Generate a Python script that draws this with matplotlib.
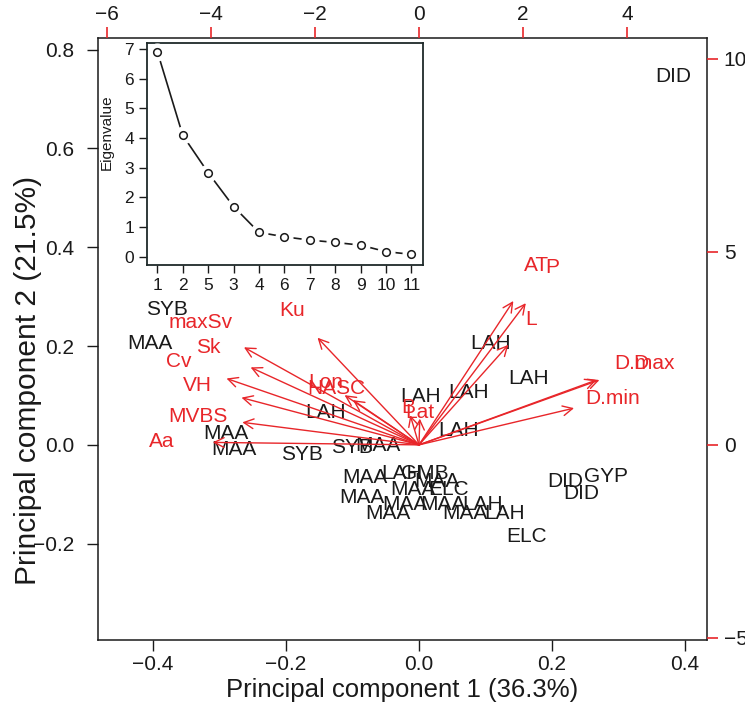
import matplotlib
matplotlib.use("Agg")
import matplotlib.pyplot as plt

plt.rcParams['font.family'] = ['Liberation Sans', 'DejaVu Sans']

# ---------------- data ----------------
score_labels = ["DID", "SYB", "MAA", "LAH", "LAH", "LAH", "LAH", "LAH", "LAH",
                "MAA", "MAA", "SYB", "SYB", "MAA", "MAA", "LAH", "GMB", "MAA",
                "MAA", "ELC", "MAA", "MAA", "MAA", "MAA", "LAH", "MAA", "LAH",
                "DID", "GYP", "DID", "ELC"]
score_pc1 = [0.382, -0.379, -0.405, 0.107, 0.165, 0.075, 0.002, -0.140, 0.060,
             -0.290, -0.278, -0.176, -0.101, -0.062, -0.081, -0.026, 0.009, 0.027,
             -0.009, 0.044, -0.086, -0.047, -0.021, 0.036, 0.095, 0.069, 0.129,
             0.220, 0.281, 0.244, 0.161]
score_pc2 = [0.745, 0.275, 0.206, 0.206, 0.134, 0.107, 0.097, 0.065, 0.030,
             0.022, -0.010, -0.020, -0.006, -0.002, -0.067, -0.057, -0.057, -0.075,
             -0.091, -0.091, -0.107, -0.138, -0.121, -0.121, -0.121, -0.138, -0.138,
             -0.075, -0.065, -0.099, -0.186]

var_labels = ["Aa", "MVBS", "VH", "Cv", "Sk", "maxSv", "Ku", "Lon", "NASC",
              "B", "Lat", "AT", "P", "L", "D", "D.max", "D.min"]
load_pc1 = [-4.96, -4.25, -4.27, -4.63, -4.05, -4.21, -2.44, -1.79, -1.59,
            -0.21, 0.02, 2.27, 2.57, 2.15, 4.27, 4.34, 3.73]
load_pc2 = [0.08, 0.73, 1.53, 2.15, 2.51, 3.16, 3.47, 1.61, 1.45,
            0.96, 0.85, 4.66, 4.59, 3.24, 2.10, 2.10, 1.19]

eig_tick_labels = ["1", "2", "5", "3", "4", "6", "7", "8", "9", "10", "11"]
eigenvalues = [6.91, 4.09, 2.83, 1.69, 0.82, 0.67, 0.56, 0.48, 0.39, 0.17, 0.08]

pc1_label = "Principal component 1 (36.3%)"
pc2_label = "Principal component 2 (21.5%)"

# ---------------- layout ----------------
W, H = 745, 708
RED = '#E8262A'
BLK = '#1a1a1a'
ratio = 12.8  # loadings-axis units per score-axis unit

fig = plt.figure(figsize=(W / 100, H / 100), dpi=100)

L, R, T, B = 97.7, 707, 38.3, 640
rect = [L / W, (H - B) / H, (R - L) / W, (B - T) / H]
ax = fig.add_axes(rect)
xlim = (-0.483, 0.433)
ylim = (-0.395, 0.823)
ax.set_xlim(*xlim)
ax.set_ylim(*ylim)
ax.set_xticks([-0.4, -0.2, 0.0, 0.2, 0.4])
ax.set_xticklabels(["\u22120.4", "\u22120.2", "0.0", "0.2", "0.4"])
ax.set_yticks([-0.2, 0.0, 0.2, 0.4, 0.6, 0.8])
ax.set_yticklabels(["\u22120.2", "0.0", "0.2", "0.4", "0.6", "0.8"])
ax.tick_params(direction='out', length=8, width=1, labelsize=15, colors=BLK)
ax.tick_params(axis='x', pad=3)
ax.tick_params(axis='y', pad=9)
for s in ax.spines.values():
    s.set_linewidth(1.1)
    s.set_color(BLK)
ax.set_xlabel(pc1_label, fontsize=18.5, color=BLK)
ax.xaxis.label.set_va('center')
ax.xaxis.set_label_coords(0.5, -0.083)
ax.set_ylabel(pc2_label, fontsize=21.5, color=BLK)
ax.yaxis.label.set_va('center')
ax.yaxis.set_label_coords(-0.114, 0.432)

for lab, x, y in zip(score_labels, score_pc1, score_pc2):
    ax.text(x, y, lab, ha='center', va='center', fontsize=15, color=BLK)

# secondary axes for loadings
ax2 = fig.add_axes(rect, frameon=False)
ax2.set_xlim(xlim[0] * ratio, xlim[1] * ratio)
ax2.set_ylim(ylim[0] * ratio, ylim[1] * ratio)
ax2.xaxis.tick_top()
ax2.yaxis.tick_right()
ax2.set_xticks([-6, -4, -2, 0, 2, 4])
ax2.set_xticklabels(["\u22126", "\u22124", "\u22122", "0", "2", "4"])
ax2.set_yticks([-5, 0, 5, 10])
ax2.set_yticklabels(["\u22125", "0", "5", "10"])
ax2.tick_params(direction='out', length=8, width=1.2, labelsize=15,
                color=RED, labelcolor=BLK)
ax2.tick_params(axis='x', pad=2)
ax2.tick_params(axis='y', pad=4)

for lab, x, y in zip(var_labels, load_pc1, load_pc2):
    ax2.annotate('', xy=(0.8 * x, 0.8 * y), xytext=(0, 0),
                 arrowprops=dict(arrowstyle='->,head_length=0.7,head_width=0.35',
                                 color=RED, lw=1.0, shrinkA=0, shrinkB=0,
                                 mutation_scale=10))
    ax2.text(x, y, lab, ha='center', va='center', fontsize=15, color=RED)

# ---------------- inset scree plot ----------------
iL, iR, iT, iB = 146.7, 423, 43.3, 265
axin = fig.add_axes([iL / W, (H - iB) / H, (iR - iL) / W, (iB - iT) / H])
axin.set_zorder(5)
axin.set_facecolor('white')
idx = list(range(1, len(eigenvalues) + 1))
axin.plot(idx, eigenvalues, color=BLK, lw=1.2, zorder=2)
axin.plot(idx, eigenvalues, 'o', ms=12, color='white', zorder=3)
axin.plot(idx, eigenvalues, 'o', ms=5.5, mfc='white', mec=BLK, mew=1.1, zorder=4)
axin.set_xlim(0.58, 11.46)
axin.set_ylim(-0.28, 7.19)
axin.set_xticks(idx)
axin.set_xticklabels(eig_tick_labels)
axin.set_yticks(range(0, 8))
axin.tick_params(direction='out', length=6, width=1, labelsize=12.5, pad=3, colors=BLK)
for s in axin.spines.values():
    s.set_linewidth(1.3)
    s.set_color('#1f2a2a')
axin.set_ylabel("Eigenvalue", fontsize=11, color=BLK)
axin.yaxis.label.set_va('center')
axin.yaxis.set_label_coords(-0.145, 0.6)

fig.savefig("out.png", dpi=100)
